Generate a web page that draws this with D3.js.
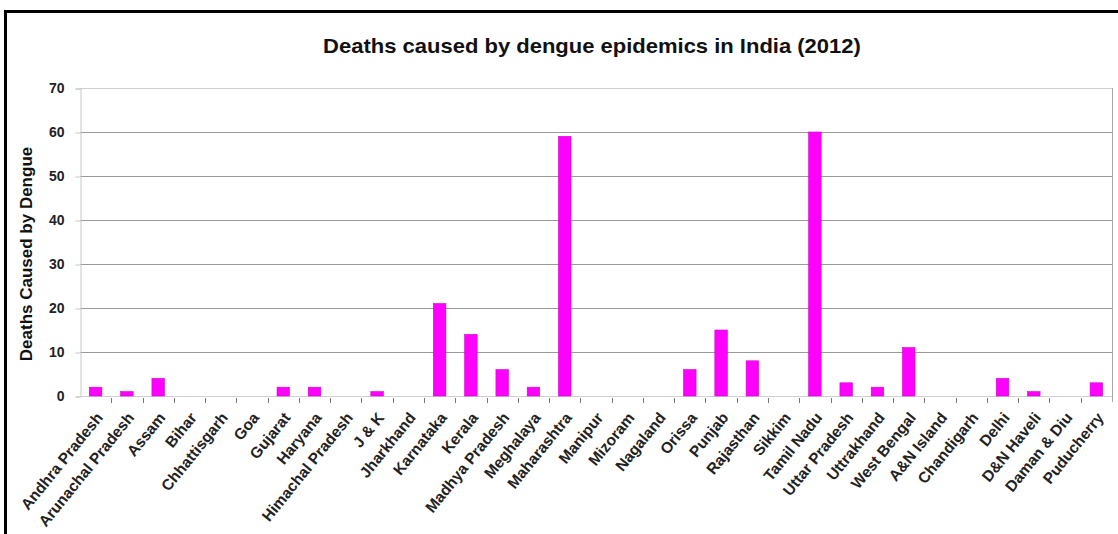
<!DOCTYPE html>
<html>
<head>
<meta charset="utf-8">
<script src="https://cdn.jsdelivr.net/npm/d3@7"></script>
<style>
  html, body { margin:0; padding:0; background:#fff; }
  svg { display:block; font-family: "Liberation Sans", Arial, sans-serif; }
</style>
</head>
<body>
<svg id="chart" width="1118" height="534"></svg>
<script>
const states = ["Andhra Pradesh","Arunachal Pradesh","Assam","Bihar","Chhattisgarh","Goa","Gujarat","Haryana",
  "Himachal Pradesh","J & K","Jharkhand","Karnataka","Kerala","Madhya Pradesh","Meghalaya","Maharashtra",
  "Manipur","Mizoram","Nagaland","Orissa","Punjab","Rajasthan","Sikkim","Tamil Nadu","Uttar Pradesh",
  "Uttrakhand","West Bengal","A&N Island","Chandigarh","Delhi","D&N Haveli","Daman & Diu","Puducherry"];
const deaths = [2,1,4,0,0,0,2,2,0,1,0,21,14,6,2,59,0,0,0,6,15,8,0,60,3,2,11,0,0,4,1,0,3];
const yTicks = [0,10,20,30,40,50,60,70];
const title = "Deaths caused by dengue epidemics in India (2012)";
const yTitle = "Deaths Caused by Dengue";

const svg = d3.select("#chart");
const m = { left:80, right:1112, top:88, bottom:396 };

// outer frame
svg.append("rect").attr("x",5.5).attr("y",11.5).attr("width",1130).attr("height",540)
  .attr("fill","none").attr("stroke","#000").attr("stroke-width",3);

const x = d3.scaleBand().domain(states).range([m.left, m.right]).paddingInner(0.6).paddingOuter(0.3);
const xb = d3.scaleBand().domain(states).range([m.left, m.right]);
const y = d3.scaleLinear().domain([0,70]).range([m.bottom, m.top]);

// gridlines
svg.append("g").selectAll("line").data(yTicks.filter(d=>d>0)).join("line")
  .attr("x1",m.left).attr("x2",m.right).attr("y1",d=>y(d)+0.5).attr("y2",d=>y(d)+0.5)
  .attr("stroke",d=> d===70 ? "#d0d0d0" : "#9a9a9a").attr("stroke-width",1.2);

// y axis
const ya = svg.append("g").attr("transform",`translate(${m.left+0.5},0.5)`)
  .call(d3.axisLeft(y).tickValues(yTicks).tickSize(5).tickPadding(11));
ya.select(".domain").attr("stroke","#c8c8c8");
ya.selectAll(".tick line").attr("stroke","#c8c8c8");
ya.selectAll("text").attr("font-size",14).attr("font-weight","bold").attr("fill","#222");

// right edge
svg.append("line").attr("x1",m.right+0.5).attr("x2",m.right+0.5).attr("y1",m.top).attr("y2",m.bottom+6)
  .attr("stroke","#aaa");

// x baseline and ticks
svg.append("line").attr("x1",m.left).attr("x2",m.right).attr("y1",m.bottom+0.5).attr("y2",m.bottom+0.5)
  .attr("stroke","#cfcfcf").attr("stroke-width",1.2);
svg.append("g").selectAll("line").data(states.slice(1)).join("line")
  .attr("x1",d=>Math.round(xb(d))+0.5).attr("x2",d=>Math.round(xb(d))+0.5)
  .attr("y1",m.bottom+2).attr("y2",m.bottom+7).attr("stroke","#777");

// bars
svg.append("g").selectAll("rect").data(deaths.map((v,i)=>({s:states[i],v}))).join("rect")
  .attr("x",d=>x(d.s)).attr("width",x.bandwidth())
  .attr("y",d=>y(d.v)).attr("height",d=>y(0)-y(d.v))
  .attr("fill","#ff00ff").attr("stroke","#d000d0").attr("stroke-width",0.6);

// x labels
svg.append("g").selectAll("text").data(states).join("text")
  .attr("transform",d=>`translate(${xb(d)+xb.bandwidth()/2+8},${m.bottom+22}) rotate(-51)`)
  .attr("text-anchor","end").attr("font-size",15.5).attr("font-weight","bold").attr("fill","#222")
  .text(d=>d);

// title
svg.append("text").attr("x",592).attr("y",53).attr("text-anchor","middle")
  .attr("font-size",20).attr("font-weight","bold").attr("fill","#111")
  .attr("transform","translate(592,0) scale(1.1,1) translate(-592,0)").text(title);

// y title
svg.append("text").attr("transform",`translate(32,${(m.top+m.bottom)/2+12}) rotate(-90)`)
  .attr("text-anchor","middle").attr("font-size",17).attr("font-weight","bold").attr("fill","#111")
  .text(yTitle);
</script>
</body>
</html>
